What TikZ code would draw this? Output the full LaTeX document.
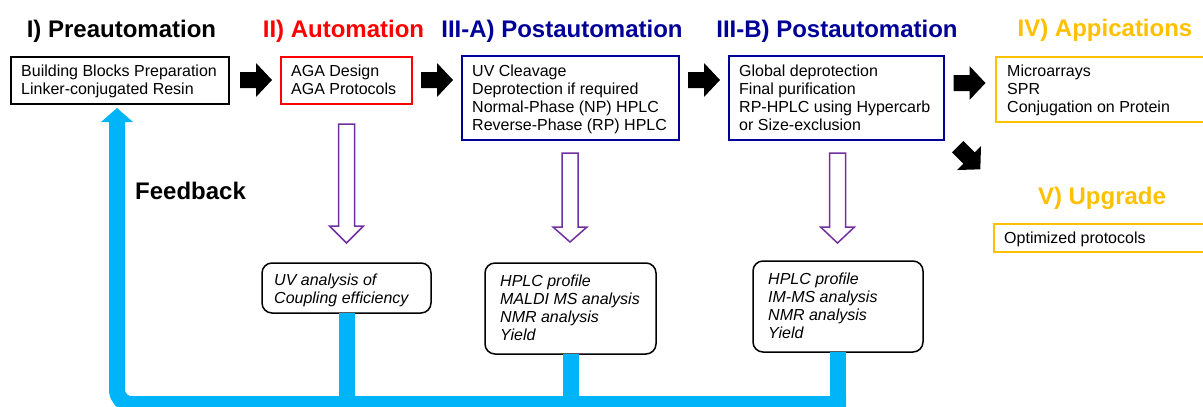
\documentclass[tikz,border=0pt]{standalone}
\usepackage{fontspec}
\setmainfont{Liberation Sans}
\usetikzlibrary{calc}
\definecolor{navy}{RGB}{0,0,153}
\definecolor{orng}{RGB}{255,192,0}
\definecolor{purp}{RGB}{112,48,160}
\definecolor{fbblue}{RGB}{0,180,250}
\definecolor{redc}{RGB}{255,0,0}
\newcommand\purplearrow[4]{%
  \draw[hollow] ({#1-8},#2) -- ({#1+8},#2) -- ({#1+8},#3) -- ({#1+17},#3) -- (#1,#4)
    -- ({#1-17},#3) -- ({#1-8},#3) -- cycle;}
\tikzset{
  title/.style={font=\fontsize{24}{28}\selectfont\bfseries, anchor=base, inner sep=0pt},
  body/.style={font=\fontsize{16}{18}\selectfont, align=left, anchor=base west, inner sep=0pt},
  ibody/.style={body, font=\fontsize{16}{18}\selectfont\itshape},
  stage/.style={draw, line width=2.5pt, anchor=north west, inner sep=0pt, outer sep=0pt},
  result/.style={draw=black, line width=1.5pt, rounded corners=10pt, anchor=north west, inner sep=0pt, outer sep=0pt},
  blockarrow/.pic={\fill[black] (-16,-8) -- (0,-8) -- (0,-17) -- (16,0) -- (0,17) -- (0,8) -- (-16,8) -- cycle;},
  hollow/.style={draw=purp, line width=1.5pt, fill=white, line join=miter},
  fb/.style={draw=fbblue, line width=16pt},
}
\begin{document}
\begin{tikzpicture}[x=1pt,y=-1pt]
\path[use as bounding box] (0,0) rectangle (1203,407);
\clip (0,0) rectangle (1203,407);
% titles
\node[title] (h1) at (121.5,37) {I) Preautomation};
\node[title, text=redc] (h2) at (343.5,37) {II) Automation};
\node[title, text=navy] (h3) at (562,37) {III-A) Postautomation};
\node[title, text=navy] (h4) at (837,37) {III-B) Postautomation};
\node[title, text=orng] (h5) at (1105,36) {IV) Appications};
\node[title, text=orng] (h6) at (1102,204) {V) Upgrade};
\node[title, anchor=base west] (fbl) at (135,199) {Feedback};
% stage boxes
\node[stage, draw=black, minimum width=218, minimum height=47] (b1) at (11,57) {};
\node[stage, draw=redc, minimum width=131, minimum height=47] (b2) at (281,57) {};
\node[stage, draw=navy, minimum width=217, minimum height=84] (b3) at (462,56) {};
\node[stage, draw=navy, minimum width=215, minimum height=84] (b4) at (729,56) {};
\node[stage, draw=orng, minimum width=230, minimum height=65] (b5) at (996,57) {};
\node[stage, draw=orng, minimum width=230, minimum height=28] (b6) at (994,224) {};
% result boxes
\node[result, minimum width=169, minimum height=50] (bA) at (262,263) {};
\node[result, minimum width=171, minimum height=91] (bB) at (485,263) {};
\node[result, minimum width=170, minimum height=91] (bC) at (753,261) {};
% texts
\node[body] (t1) at (21,94) {Building Blocks Preparation\\Linker-conjugated Resin};
\node[body] (t2) at (291,94) {AGA Design\\AGA Protocols};
\node[body] (t3) at (472,130) {UV Cleavage\\Deprotection if required\\Normal-Phase (NP) HPLC\\Reverse-Phase (RP) HPLC};
\node[body] (t4) at (739,130) {Global deprotection\\Final purification\\RP-HPLC using Hypercarb\\or Size-exclusion};
\node[body] (t5) at (1007,112) {Microarrays\\SPR\\Conjugation on Protein};
\node[body] (t6) at (1004,243) {Optimized protocols};
\node[ibody] (tA) at (274,303) {UV analysis of\\Coupling efficiency};
\node[ibody] (tB) at (500,340) {HPLC profile\\MALDI MS analysis\\NMR analysis\\Yield};
\node[ibody] (tC) at (768,338) {HPLC profile\\IM-MS analysis\\NMR analysis\\Yield};
% black block arrows
\pic at (256,80) {blockarrow};
\pic at (437,80) {blockarrow};
\pic at (704,80) {blockarrow};
\pic at (969.5,83) {blockarrow};
\pic[rotate=-45] at (969,158) {blockarrow};
% purple hollow arrows
\purplearrow{346.5}{124}{226}{243}
\purplearrow{570}{153}{227}{242}
\purplearrow{837.5}{153}{227}{243}
% feedback
\coordinate (fbtip) at (117,108);
\coordinate (fbR) at (846,404);
\draw[fb] (bA.south) -- (bA.south |- fbR);
\draw[fb] (bB.south) -- (bB.south |- fbR);
\draw[fb] (bC.south) -- ($(bC.south |- fbR)+(0,8)$);
\draw[fb, rounded corners=14pt] (fbR) -- (fbtip |- fbR) -- ($(fbtip)+(0,13)$);
\fill[fbblue] (fbtip) -- ++(16,14) -- ++(-32,0) -- cycle;
\end{tikzpicture}
\end{document}
